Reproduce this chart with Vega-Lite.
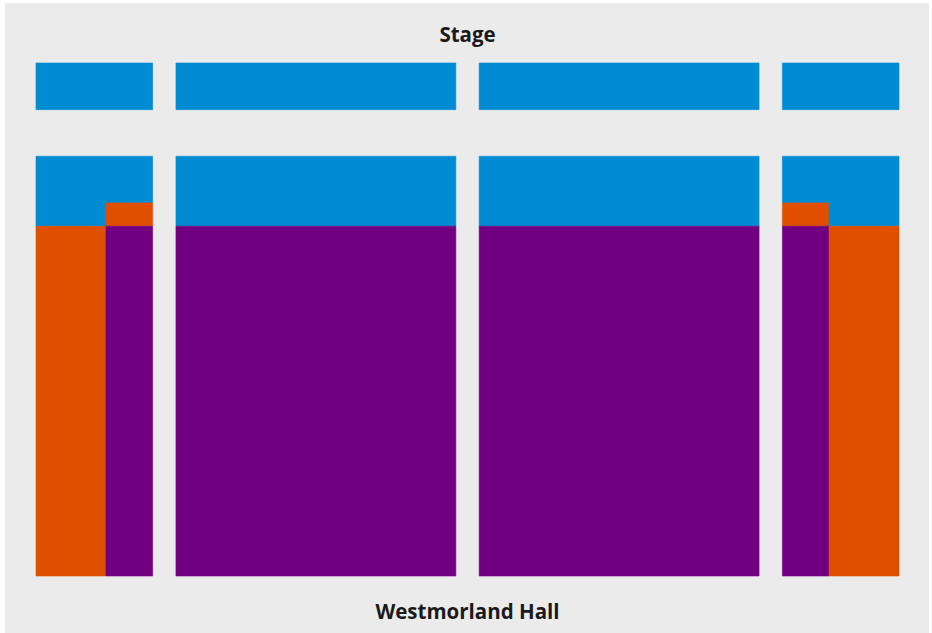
{
  "$schema": "https://vega.github.io/schema/vega-lite/v6.json",
  "width": 924,
  "height": 630,
  "autosize": {"type": "none"},
  "padding": {"left": 5, "top": 3, "right": 3, "bottom": 0},
  "background": "#ffffff",
  "config": {"view": {"fill": "#ebebeb", "stroke": null}},
  "datasets": {
    "seats": [
      {"block": "Left", "band": "Band 1", "x": 0, "x2": 5, "y": 0, "y2": 2},
      {"block": "Centre left", "band": "Band 1", "x": 6, "x2": 18, "y": 0, "y2": 2},
      {"block": "Centre right", "band": "Band 1", "x": 19, "x2": 31, "y": 0, "y2": 2},
      {"block": "Right", "band": "Band 1", "x": 32, "x2": 37, "y": 0, "y2": 2},
      {"block": "Left", "band": "Band 1", "x": 0, "x2": 5, "y": 4, "y2": 6},
      {"block": "Left", "band": "Band 1", "x": 0, "x2": 3, "y": 6, "y2": 7},
      {"block": "Left", "band": "Band 2", "x": 3, "x2": 5, "y": 6, "y2": 7},
      {"block": "Left", "band": "Band 2", "x": 0, "x2": 3, "y": 7, "y2": 22},
      {"block": "Left", "band": "Band 3", "x": 3, "x2": 5, "y": 7, "y2": 22},
      {"block": "Centre left", "band": "Band 1", "x": 6, "x2": 18, "y": 4, "y2": 7},
      {"block": "Centre left", "band": "Band 3", "x": 6, "x2": 18, "y": 7, "y2": 22},
      {"block": "Centre right", "band": "Band 1", "x": 19, "x2": 31, "y": 4, "y2": 7},
      {"block": "Centre right", "band": "Band 3", "x": 19, "x2": 31, "y": 7, "y2": 22},
      {"block": "Right", "band": "Band 1", "x": 32, "x2": 37, "y": 4, "y2": 6},
      {"block": "Right", "band": "Band 2", "x": 32, "x2": 34, "y": 6, "y2": 7},
      {"block": "Right", "band": "Band 1", "x": 34, "x2": 37, "y": 6, "y2": 7},
      {"block": "Right", "band": "Band 3", "x": 32, "x2": 34, "y": 7, "y2": 22},
      {"block": "Right", "band": "Band 2", "x": 34, "x2": 37, "y": 7, "y2": 22}
    ],
    "labels": [
      {"label": "Stage", "x": 18.5, "y": -0.9},
      {"label": "Westmorland Hall", "x": 18.5, "y": 23.86}
    ]
  },
  "layer": [
    {
      "data": {"name": "seats"},
      "mark": {"type": "rect", "strokeWidth": 0.6},
      "encoding": {
        "x": {"field": "x", "type": "quantitative", "scale": {"domain": [-1.329, 38.286], "nice": false, "zero": false}, "axis": null},
        "x2": {"field": "x2"},
        "y": {"field": "y", "type": "quantitative", "scale": {"domain": [-2.573, 24.445], "nice": false, "zero": false, "reverse": true}, "axis": null},
        "y2": {"field": "y2"},
        "color": {"field": "band", "type": "nominal", "scale": {"domain": ["Band 1", "Band 2", "Band 3"], "range": ["#008bd2", "#e04f00", "#710081"]}, "legend": null},
        "stroke": {"field": "band", "type": "nominal", "scale": {"domain": ["Band 1", "Band 2", "Band 3"], "range": ["#008bd2", "#e04f00", "#710081"]}, "legend": null},
        "tooltip": [{"field": "block"}, {"field": "band"}]
      }
    },
    {
      "data": {"name": "labels"},
      "mark": {"type": "text", "font": "Open Sans", "fontWeight": 700, "fontSize": 20.5, "color": "#1a1a1a", "align": "center", "baseline": "alphabetic"},
      "encoding": {
        "x": {"field": "x", "type": "quantitative"},
        "y": {"field": "y", "type": "quantitative"},
        "text": {"field": "label"}
      }
    }
  ]
}
